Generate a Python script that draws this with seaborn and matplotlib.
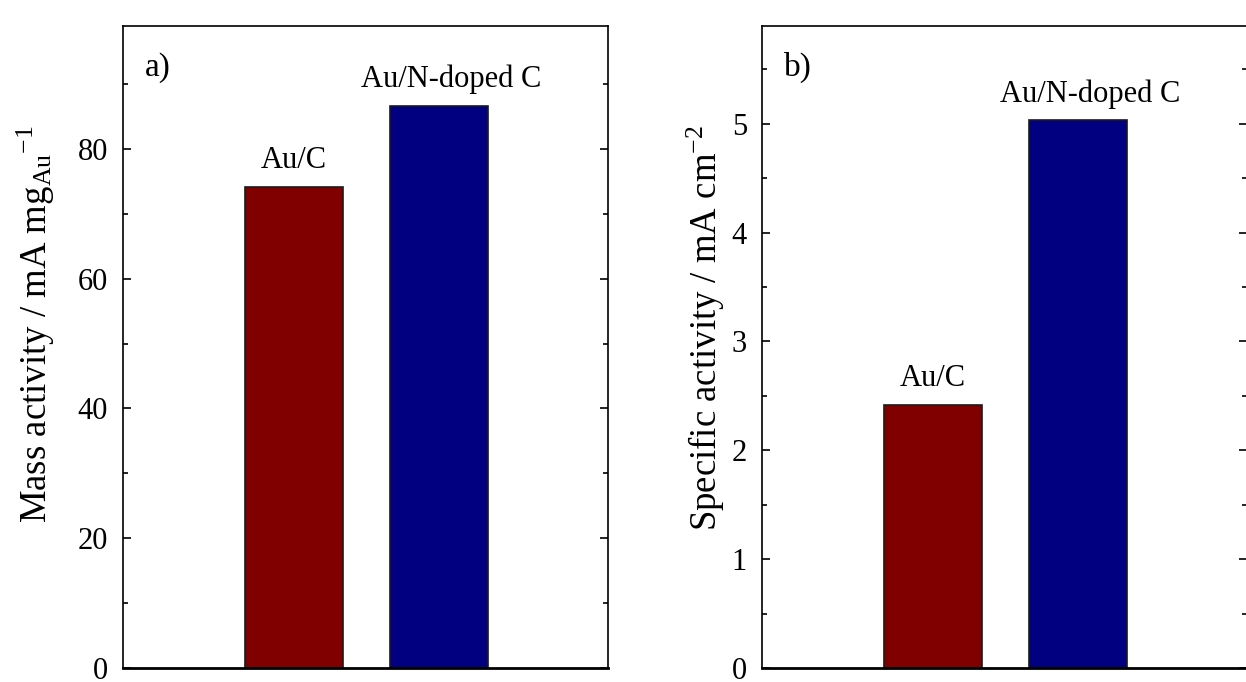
import matplotlib
matplotlib.use("Agg")
import matplotlib.pyplot as plt
import seaborn as sns
import pandas as pd
from matplotlib.ticker import MultipleLocator

categories = ["Au/C", "Au/N-doped C"]
mass_activity = [74.2, 86.7]
specific_activity = [2.42, 5.03]
bar_colors = ["#800000", "#000080"]
panel_labels = ["a)", "b)"]
ylabels = [r"Mass activity / mA mg$_{\mathrm{Au}}$$^{\mathrm{-1}}$",
           r"Specific activity / mA cm$^{\mathrm{-2}}$"]

sns.set_style("white")
plt.rcParams["font.family"] = ["Liberation Serif", "DejaVu Serif"]
plt.rcParams["mathtext.fontset"] = "custom"
plt.rcParams["mathtext.rm"] = "Liberation Serif"
plt.rcParams["mathtext.it"] = "Liberation Serif:italic"
plt.rcParams["mathtext.bf"] = "Liberation Serif:bold"
plt.rcParams["text.color"] = "black"
plt.rcParams["axes.labelcolor"] = "black"
plt.rcParams["xtick.color"] = "black"
plt.rcParams["ytick.color"] = "black"
plt.rcParams["axes.edgecolor"] = "black"

fig = plt.figure(figsize=(12.46, 6.82), dpi=100)
W, H = 1246, 682
ax_a = fig.add_axes([123.3 / W, 1 - 668 / H, 484.2 / W, (668 - 25.7) / H])
ax_b = fig.add_axes([762.3 / W, 1 - 668 / H, 484.2 / W, (668 - 25.7) / H])

datasets = [mass_activity, specific_activity]
ylims = [99.0, 5.90]
majors = [20, 1]
minors = [10, 0.5]
label_x = [-0.137, -0.073]
label_y = [0.535, 0.53]

for ax, vals, ylim, mj, mn, lab, ylab, lx, ly in zip(
        [ax_a, ax_b], datasets, ylims, majors, minors, panel_labels, ylabels,
        label_x, label_y):
    df = pd.DataFrame({"cat": categories, "val": vals})
    sns.barplot(data=df, x="cat", y="val", hue="cat", palette=bar_colors,
                legend=False, width=0.674, edgecolor="#1a1a1a", linewidth=1.2,
                saturation=1, ax=ax)
    ax.set_xlim(-1.173, 2.159)
    ax.set_ylim(0, ylim)
    ax.yaxis.set_major_locator(MultipleLocator(mj))
    ax.yaxis.set_minor_locator(MultipleLocator(mn))
    ax.tick_params(axis="y", which="major", direction="in", length=6, width=1.2,
                   left=True, right=True, labelsize=22, pad=11, color="black",
                   labelcolor="black")
    ax.tick_params(axis="y", which="minor", direction="in", length=3.5, width=1.2,
                   left=True, right=True, color="black")
    ax.tick_params(axis="x", bottom=False, labelbottom=False)
    ax.set_xlabel("")
    ax.set_ylabel(ylab, fontsize=26.5, color="black")
    ax.yaxis.set_label_coords(lx, ly)
    for side in ["left", "right", "top"]:
        ax.spines[side].set_visible(True)
        ax.spines[side].set_color("black")
        ax.spines[side].set_linewidth(1.2)
    ax.spines["bottom"].set_visible(True)
    ax.spines["bottom"].set_color("black")
    ax.spines["bottom"].set_linewidth(2.0)
    ax.text(0.045, 0.935, lab, transform=ax.transAxes, fontsize=24,
            ha="left", va="center", color="black")
    for i, (c, v) in enumerate(zip(categories, vals)):
        dx = 0 if i == 0 else 9
        ax.annotate(c, xy=(i, v), xytext=(dx, 8.5), textcoords="offset points",
                    ha="center", va="bottom", fontsize=22, color="black")

fig.savefig("out.png", dpi=100)
